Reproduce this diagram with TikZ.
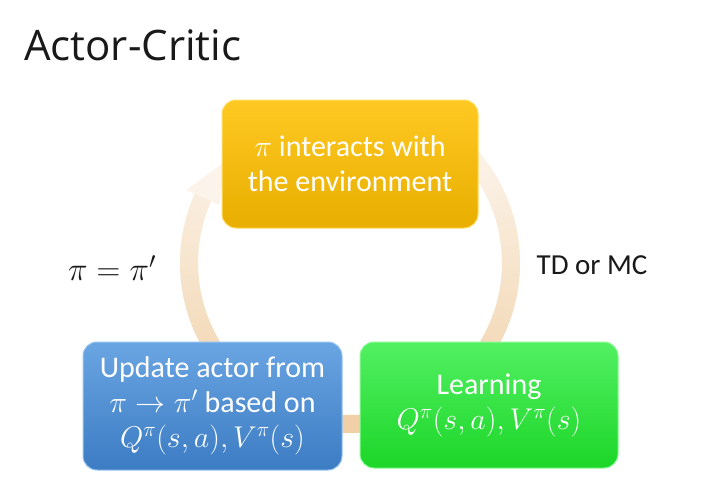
\RequirePackage{fix-cm}
\documentclass[tikz,border=0pt]{standalone}
\usepackage{fontspec}
\setmainfont{Carlito}
\newfontfamily\titlefont{Open Sans}
\definecolor{peach}{RGB}{238,200,152}
\definecolor{ytop}{RGB}{255,201,35}
\definecolor{ybot}{RGB}{232,174,0}
\definecolor{yedge}{RGB}{255,222,100}
\definecolor{btop}{RGB}{106,165,227}
\definecolor{bbot}{RGB}{60,124,195}
\definecolor{bedge}{RGB}{150,196,240}
\definecolor{gtop}{RGB}{82,240,98}
\definecolor{gbot}{RGB}{28,214,40}
\definecolor{gedge}{RGB}{140,250,150}
\tikzset{
  box/.style={rounded corners=14pt, align=center, text=white, line width=1pt,
    font=\fontsize{30}{35}\selectfont, inner sep=0pt},
  lbl/.style={font=\fontsize{29}{33}\selectfont, text=black!90, inner sep=0pt}
}
\begin{document}
\begin{tikzpicture}[x=1pt,y=-1pt]
\useasboundingbox (0,0) rectangle (702,498);
\fill[white] (0,0) rectangle (702,498);
\coordinate (ctr) at (350,263);
% ring
\foreach \a in {-46,-44,...,202}{
  \pgfmathsetmacro\t{10+75*(1+sin(\a+1))/2}
  \draw[line width=18pt, color=peach!\t!white]
    ([shift={(\a:161)}]ctr) arc[start angle=\a, end angle=\a+2.4, radius=161];
}
\fill[peach!20!white] ([shift={(204:143)}]ctr) -- ([shift={(219:161)}]ctr) -- ([shift={(204:179)}]ctr) -- cycle;
% title
\node[anchor=base west, inner sep=0pt, text=black!90] (title) at (24,60) {\titlefont\fontsize{42}{50}\selectfont Actor-Critic};
% boxes
\node[box, top color=ytop, bottom color=ybot, draw=yedge,
  minimum width=256pt, minimum height=128pt] (env) at (350,164)
  {$\pi$ interacts with\\the environment};
\node[box, top color=btop, bottom color=bbot, draw=bedge,
  minimum width=259pt, minimum height=128pt] (upd) at (212.5,406)
  {Update actor from\\$\pi\rightarrow\pi'$ based on\\$Q^\pi(s,a),V^\pi(s)$};
\node[box, top color=gtop, bottom color=gbot, draw=gedge,
  minimum width=258pt, minimum height=126pt] (learn) at (489,405)
  {Learning\\$Q^\pi(s,a),V^\pi(s)$};
% labels
\node[lbl, font=\fontsize{33}{36}\selectfont] (pieq) at (112,268) {$\pi=\pi'$};
\node[lbl] (tdmc) at (592,265) {TD or MC};
\end{tikzpicture}
\end{document}
